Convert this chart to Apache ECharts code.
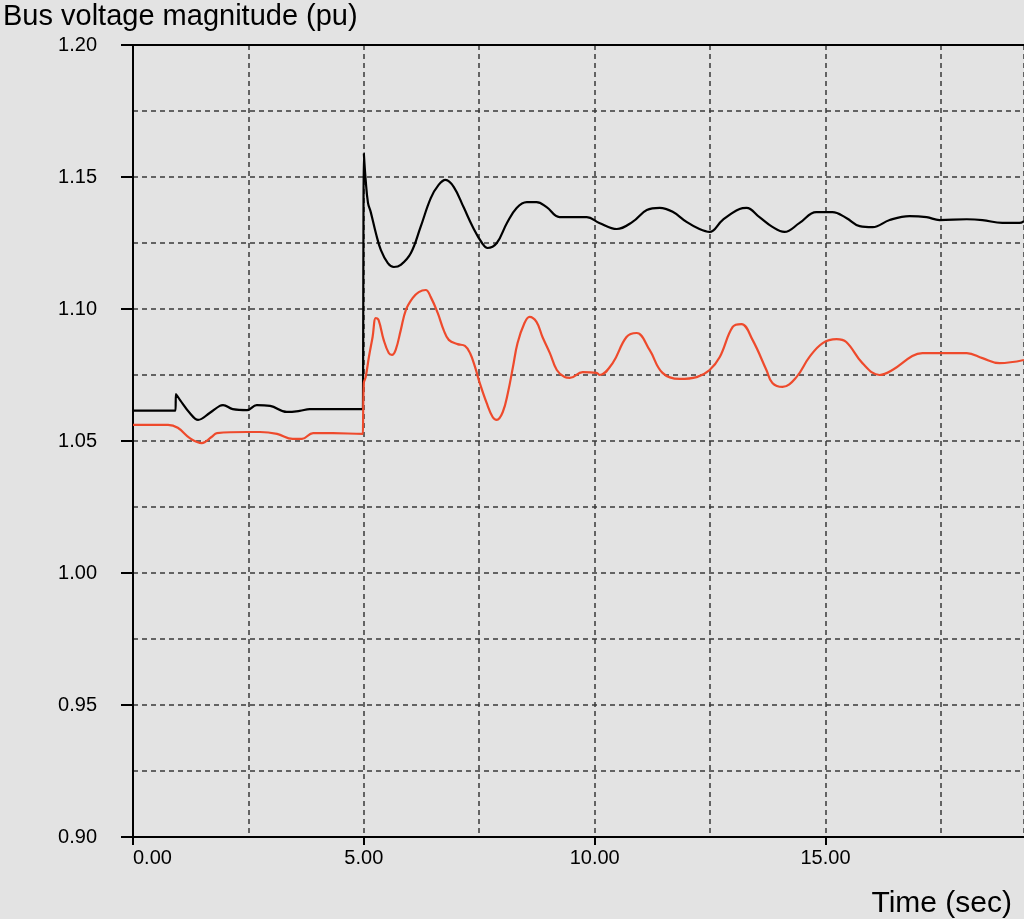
<!DOCTYPE html>
<html>
<head>
<meta charset="utf-8">
<script src="https://cdn.jsdelivr.net/npm/echarts@6/dist/echarts.min.js"></script>
<style>
html,body{margin:0;padding:0;background:#e3e3e3;}
#chart{width:1024px;height:919px;}
</style>
</head>
<body>
<div id="chart"></div>
<script>
// ---- data ----
const titleText = "Bus voltage magnitude (pu)";
const xAxisName = "Time (sec)";

const timeBlack = [0, 0.80, 0.92, 0.93, 1.02, 1.23, 1.41, 1.66, 1.88, 1.95, 2.16, 2.47, 2.68, 2.97, 3.33, 3.61, 3.83, 4.19, 4.98, 4.995,
  5.00, 5.002, 5.04, 5.09, 5.15, 5.26, 5.37, 5.52, 5.65, 5.80, 6.02, 6.23, 6.45, 6.62, 6.77, 6.95, 7.16, 7.36, 7.56, 7.68, 7.88,
  8.10, 8.31, 8.53, 8.74, 8.96, 9.24, 9.83, 10.10, 10.48, 10.82, 11.13, 11.41, 11.69, 11.99, 12.27, 12.49, 12.77, 13.14,
  13.29, 13.57, 13.85, 14.11, 14.44, 14.80, 15.15, 15.45, 15.74, 16.02, 16.39, 16.82, 17.19, 17.47, 18.06, 18.40, 18.83, 19.20, 19.30];
const voltBlack = [1.0615, 1.0615, 1.0615, 1.0678, 1.0655, 1.0606, 1.0580, 1.0606, 1.0633, 1.0636, 1.0621, 1.0617, 1.0636, 1.0633, 1.0610, 1.0614, 1.0621, 1.0621, 1.0621, 1.0621,
  1.1590, 1.1590, 1.1489, 1.1402, 1.1367, 1.1288, 1.1223, 1.1174, 1.1159, 1.1167, 1.1212, 1.1311, 1.1420, 1.1470, 1.1489, 1.1462, 1.1386, 1.1311, 1.1250, 1.1231, 1.1250,
  1.1326, 1.1383, 1.1405, 1.1405, 1.1386, 1.1348, 1.1348, 1.1326, 1.1303, 1.1330, 1.1375, 1.1383, 1.1368, 1.1330, 1.1303, 1.1292, 1.1337, 1.1379,
  1.1383, 1.1348, 1.1311, 1.1292, 1.1326, 1.1367, 1.1367, 1.1345, 1.1314, 1.1310, 1.1337, 1.1352, 1.1348, 1.1337, 1.1340, 1.1337, 1.1326, 1.1326, 1.1333];

const timeRed = [0, 0.76, 0.97, 1.23, 1.49, 1.70, 1.82, 2.47, 2.75, 3.12, 3.46, 3.66, 3.90, 4.33, 4.98, 4.995,
  5.00, 5.04, 5.11, 5.19, 5.26, 5.32, 5.43, 5.54, 5.61, 5.69, 5.80, 5.91, 6.06, 6.19, 6.34, 6.45, 6.60, 6.73, 6.84, 7.03,
  7.19, 7.30, 7.41, 7.51, 7.66, 7.79, 7.88, 8.01, 8.12, 8.23, 8.33, 8.48, 8.59, 8.74, 8.87, 9.03, 9.18, 9.35, 9.46, 9.74,
  10.04, 10.11, 10.39, 10.69, 10.91, 11.19, 11.47, 11.84, 12.21, 12.49, 12.71, 12.99, 13.18, 13.42, 13.72, 13.85, 14.07,
  14.37, 14.65, 14.94, 15.24, 15.45, 15.80, 16.17, 16.45, 16.88, 17.10, 18.06, 18.40, 18.77, 19.30];
const voltRed = [1.0561, 1.0561, 1.0550, 1.0511, 1.0492, 1.0515, 1.0530, 1.0534, 1.0534, 1.0527, 1.0508, 1.0508, 1.0530, 1.0530, 1.0527, 1.0527,
  1.0720, 1.0742, 1.0818, 1.0894, 1.0966, 1.0958, 1.0883, 1.0833, 1.0826, 1.0845, 1.0920, 1.0996, 1.1042, 1.1064, 1.1072, 1.1045, 1.0985, 1.0920, 1.0883, 1.0867,
  1.0860, 1.0833, 1.0780, 1.0720, 1.0644, 1.0591, 1.0580, 1.0610, 1.0682, 1.0780, 1.0871, 1.0947, 1.0970, 1.0951, 1.0894, 1.0833, 1.0769, 1.0742, 1.0739, 1.0761,
  1.0758, 1.0750, 1.0795, 1.0894, 1.0909, 1.0845, 1.0758, 1.0735, 1.0742, 1.0769, 1.0818, 1.0932, 1.0943, 1.0883, 1.0769, 1.0720, 1.0705,
  1.0742, 1.0818, 1.0871, 1.0886, 1.0875, 1.0795, 1.0750, 1.0769, 1.0822, 1.0833, 1.0833, 1.0814, 1.0795, 1.0807];

const xMin = 0, xMax = 19.3, xLabelStep = 5, xGridStep = 2.5;
const yMin = 0.90, yMax = 1.20, yLabelStep = 0.05, yGridStep = 0.025;

// ---- chart ----
const pairs = (t, v) => t.map((x, i) => [x, v[i]]);
const gridDash = {color: '#3a3a3a', type: [5, 4], width: 1.5};
const font = 'Arial, "Liberation Sans", sans-serif';

const chart = echarts.init(document.getElementById('chart'), null, {renderer: 'canvas'});
chart.setOption({
  backgroundColor: '#e3e3e3',
  animation: false,
  title: {
    text: titleText, left: -2, top: -3,
    textStyle: {fontFamily: font, fontSize: 29, fontWeight: 'normal', color: '#000'}
  },
  grid: {left: 133, top: 45, right: 0, bottom: 82, containLabel: false},
  xAxis: [
    {
      type: 'value', min: xMin, max: xMax, interval: xLabelStep, position: 'bottom',
      axisLine: {show: true, lineStyle: {color: '#000', width: 2}},
      axisTick: {show: true, length: 8, lineStyle: {color: '#000', width: 2}},
      axisLabel: {
        show: true, margin: 11, fontFamily: font, fontSize: 20, color: '#000',
        showMaxLabel: false, alignMinLabel: 'left',
        formatter: v => (Math.abs(v / xLabelStep - Math.round(v / xLabelStep)) < 1e-6 ? v.toFixed(2) : '')
      },
      splitLine: {show: false}
    },
    {
      type: 'value', min: xMin, max: xMax, interval: xGridStep, position: 'top',
      axisLine: {show: true, lineStyle: {color: '#000', width: 2}},
      axisTick: {show: false}, axisLabel: {show: false},
      splitLine: {show: true, lineStyle: gridDash}
    }
  ],
  yAxis: [
    {
      type: 'value', min: yMin, max: yMax, interval: yLabelStep,
      axisLine: {show: true, lineStyle: {color: '#000', width: 2}},
      axisTick: {show: true, length: 12, lineStyle: {color: '#000', width: 2}},
      axisLabel: {margin: 36, fontFamily: font, fontSize: 20, color: '#000', formatter: v => v.toFixed(2)},
      splitLine: {show: false}
    },
    {
      type: 'value', min: yMin, max: yMax, interval: yGridStep, position: 'left',
      axisLine: {show: false}, axisTick: {show: false}, axisLabel: {show: false},
      splitLine: {show: true, lineStyle: gridDash}
    }
  ],
  graphic: [{
    type: 'text', right: 12, bottom: 0,
    style: {text: xAxisName, font: '30px Arial, "Liberation Sans", sans-serif', fill: '#000'}
  }],
  series: [
    {
      name: 'Bus A', type: 'line', xAxisIndex: 0, yAxisIndex: 0,
      data: pairs(timeBlack, voltBlack), showSymbol: false,
      smooth: 0.4,
      lineStyle: {color: '#000', width: 2.2}, z: 3
    },
    {
      name: 'Bus B', type: 'line', xAxisIndex: 0, yAxisIndex: 0,
      data: pairs(timeRed, voltRed), showSymbol: false,
      smooth: 0.4,
      lineStyle: {color: '#ee4a2c', width: 2.2}, z: 3
    }
  ]
});
</script>
</body>
</html>
